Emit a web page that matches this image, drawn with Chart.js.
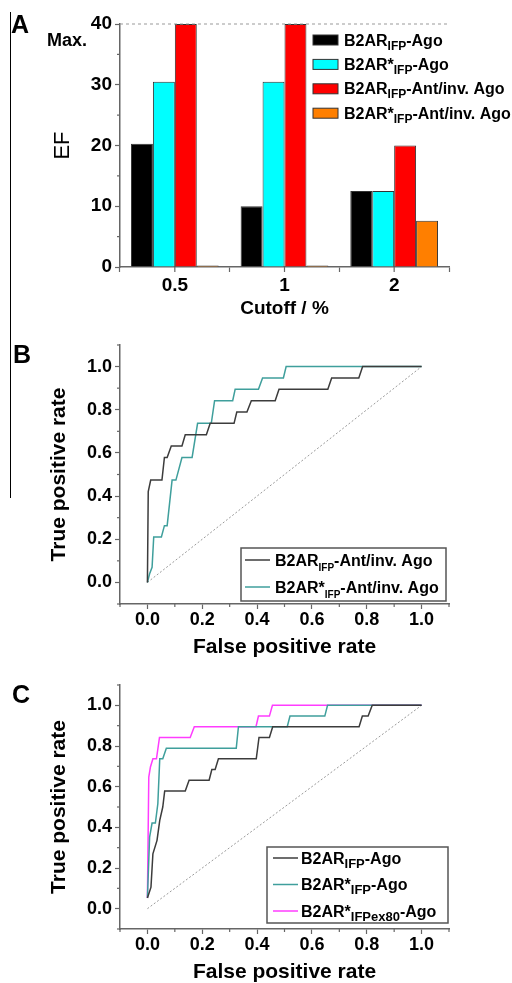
<!DOCTYPE html>
<html>
<head>
<meta charset="utf-8">
<script src="https://cdn.jsdelivr.net/npm/chart.js@4.4.0/dist/chart.umd.min.js"></script>
<style>
  body { margin: 0; background: #fff; width: 512px; height: 983px; position: relative; overflow: hidden; }
  canvas { position: absolute; left: 0; }
  #rule { position: absolute; left: 10px; top: 12px; width: 1px; height: 486px; background: #000; }
</style>
</head>
<body>
<div id="rule"></div>
<canvas id="chartA" width="512" height="320" style="top:0px;width:512px;height:320px"></canvas>
<canvas id="chartB" width="512" height="340" style="top:320px;width:512px;height:340px"></canvas>
<canvas id="chartC" width="512" height="323" style="top:660px;width:512px;height:323px"></canvas>
<script>
//	Panel A - enrichment factor per cutoff
var cutoffLabels = ['0.5', '1', '2'];
var efAgo = [20.3, 10.0, 12.5];
var efAgoStar = [30.5, 30.5, 12.5];
var efAnt = [40.0, 40.0, 20.0];
var efAntStar = [0.25, 0.25, 7.6];
var efMax = 40;

//	Panel B - ROC, antagonists / inverse agonists
var rocAntFpr = [0, 0.003, 0.012, 0.053, 0.062, 0.072, 0.087, 0.126, 0.138, 0.215, 0.229, 0.316, 0.326, 0.363, 0.379, 0.466, 0.48, 0.658, 0.672, 0.771, 0.785, 1.0];
var rocAntTpr = [0, 0.421, 0.474, 0.474, 0.579, 0.579, 0.632, 0.632, 0.684, 0.684, 0.737, 0.737, 0.789, 0.789, 0.842, 0.842, 0.895, 0.895, 0.947, 0.947, 1.0, 1.0];
var rocAntStarFpr = [0, 0.008, 0.017, 0.023, 0.051, 0.062, 0.072, 0.09, 0.104, 0.126, 0.163, 0.183, 0.233, 0.245, 0.311, 0.32, 0.405, 0.42, 0.496, 0.506, 1.0];
var rocAntStarTpr = [0, 0.04, 0.07, 0.211, 0.211, 0.263, 0.263, 0.474, 0.474, 0.579, 0.579, 0.737, 0.737, 0.842, 0.842, 0.895, 0.895, 0.947, 0.947, 1.0, 1.0];

//	Panel C - ROC, agonists
var rocAgoFpr = [0, 0.013, 0.02, 0.035, 0.045, 0.056, 0.063, 0.138, 0.152, 0.225, 0.235, 0.247, 0.259, 0.397, 0.407, 0.445, 0.457, 0.772, 0.784, 0.805, 0.82, 1.0];
var rocAgoTpr = [0.053, 0.106, 0.27, 0.336, 0.434, 0.5, 0.579, 0.579, 0.632, 0.632, 0.684, 0.684, 0.737, 0.737, 0.842, 0.842, 0.895, 0.895, 0.947, 0.947, 1.0, 1.0];
var rocAgoStarFpr = [0, 0.008, 0.017, 0.029, 0.038, 0.045, 0.056, 0.069, 0.324, 0.332, 0.51, 0.52, 0.647, 0.657, 1.0];
var rocAgoStarTpr = [0.053, 0.352, 0.421, 0.421, 0.516, 0.737, 0.737, 0.789, 0.789, 0.895, 0.895, 0.947, 0.947, 1.0, 1.0];
var rocAgoEx80Fpr = [0, 0.005, 0.011, 0.02, 0.033, 0.044, 0.156, 0.171, 0.396, 0.405, 0.445, 0.456, 1.0];
var rocAgoEx80Tpr = [0.053, 0.647, 0.697, 0.737, 0.737, 0.842, 0.842, 0.895, 0.895, 0.947, 0.947, 1.0, 1.0];

var randomFpr = [0, 1];
var randomTpr = [0, 1];

var fontFamily = "'Liberation Sans', Arial, sans-serif";
var axisColor = '#666666';
var colors = {
	black: '#000000', cyan: '#00ffff', red: '#ff0000', orange: '#ff7f00',
	rocDark: '#3c3c3c', rocTeal: '#3f9f9c', rocPink: '#ff3cff', random: '#9a9a9a'
};

Chart.defaults.font.family = fontFamily;
Chart.defaults.color = '#000';

// zip two arrays into {x,y}
var toPoints = function (xs, ys) {
	return xs.map(function (x, i) { return { x: x, y: ys[i] }; });
};

// majors only get a visible tick from chart.js, minors are drawn shorter by the plugin
var majorTickColor = function (every) {
	return function (ctx) {
		var t = ctx.tick ? Math.round(ctx.tick.value / every * 1000) / 1000 : 1;
		return Math.abs(t - Math.round(t)) < 1e-6 ? axisColor : 'rgba(0,0,0,0)';
	};
};

var tenthLabel = function (v) {
	var t = Math.round(v * 10);
	return (t >= 0 && t <= 10 && t % 2 === 0) ? (t / 10).toFixed(1) : '';
};

var drawRich = function (ctx, x, y, parts, lg) {
	parts.forEach(function (p, i) {
		var isSub = i % 2 === 1;
		ctx.font = 'bold ' + (isSub ? lg.subSize : lg.size) + 'px ' + fontFamily;
		ctx.fillText(p, x, y + (isSub ? lg.subShift : 0));
		x += ctx.measureText(p).width;
	});
};

//	Extras: minor ticks, panel letters, max line, legends with subscripts
var figureExtras = {
	id: 'figureExtras',
	afterDraw: function (chart, args, opts) {
		var ctx = chart.ctx;
		var area = chart.chartArea;
		ctx.save();
		ctx.strokeStyle = axisColor;
		ctx.lineWidth = 1.2;
		(opts.minorTicks || []).forEach(function (m) {
			var sc = chart.scales[m.axis];
			m.values.forEach(function (v) {
				var p = sc.getPixelForValue(v);
				ctx.beginPath();
				if (sc.isHorizontal()) { ctx.moveTo(p, sc.top); ctx.lineTo(p, sc.top + m.len); }
				else { ctx.moveTo(sc.right, p); ctx.lineTo(sc.right - m.len, p); }
				ctx.stroke();
			});
		});

		if (opts.maxLine) {
			var yp = chart.scales.y.getPixelForValue(opts.maxLine.value);
			ctx.strokeStyle = '#999';
			ctx.lineWidth = 1;
			ctx.setLineDash([3, 3]);
			ctx.beginPath();
			ctx.moveTo(area.left, yp);
			ctx.lineTo(area.right, yp);
			ctx.stroke();
			ctx.setLineDash([]);
			ctx.fillStyle = '#000';
			ctx.font = 'bold 18px ' + fontFamily;
			ctx.textBaseline = 'alphabetic';
			ctx.fillText(opts.maxLine.text, 47, yp + 22);
		}

		if (opts.panel) {
			ctx.fillStyle = '#000';
			ctx.font = 'bold 25px ' + fontFamily;
			ctx.textBaseline = 'alphabetic';
			ctx.fillText(opts.panel.text, opts.panel.x, opts.panel.y);
		}

		var lg = opts.legend;
		if (lg) {
			if (lg.frame) {
				ctx.strokeStyle = '#555';
				ctx.lineWidth = 1.5;
				ctx.fillStyle = '#fff';
				ctx.fillRect(lg.frame.x, lg.frame.y, lg.frame.w, lg.frame.h);
				ctx.strokeRect(lg.frame.x, lg.frame.y, lg.frame.w, lg.frame.h);
			}
			var row = 0;
			chart.data.datasets.forEach(function (ds) {
				if (!ds.legendParts) return;
				var cy = lg.y + row * lg.gap;
				if (lg.swatch === 'box') {
					ctx.fillStyle = ds.backgroundColor;
					ctx.fillRect(lg.x, cy - 5, 25, 10);
					ctx.strokeStyle = '#333';
					ctx.lineWidth = 1;
					ctx.strokeRect(lg.x, cy - 5, 25, 10);
				} else {
					ctx.strokeStyle = ds.borderColor;
					ctx.lineWidth = 1.5;
					ctx.beginPath();
					ctx.moveTo(lg.x, cy);
					ctx.lineTo(lg.x + 25, cy);
					ctx.stroke();
				}
				ctx.fillStyle = '#000';
				ctx.textBaseline = 'alphabetic';
				drawRich(ctx, lg.textX, cy + 5.5, ds.legendParts, lg);
				row++;
			});
		}
		ctx.restore();
	}
};

var rocScales = function (xHeight, titleBottom) {
	var tickFont = { size: 18, weight: 'bold' };
	var titleFont = { size: 21, weight: 'bold', lineHeight: 1 };
	return {
		x: {
			type: 'linear', min: -0.1, max: 1.1,
			ticks: { stepSize: 0.1, autoSkip: false, maxRotation: 0, padding: 0, font: tickFont, callback: tenthLabel },
			grid: { drawOnChartArea: false, tickLength: 5, tickWidth: 1.2, tickColor: majorTickColor(0.2) },
			border: { color: axisColor, width: 1.5 },
			title: { display: true, text: 'False positive rate', font: titleFont, padding: { top: 0, bottom: titleBottom } },
			afterFit: function (s) { s.height = xHeight; }
		},
		y: {
			type: 'linear', min: -0.1, max: 1.1,
			ticks: { stepSize: 0.1, autoSkip: false, padding: 3, font: tickFont, callback: tenthLabel },
			grid: { drawOnChartArea: false, tickLength: 5, tickWidth: 1.2, tickColor: majorTickColor(0.2) },
			border: { color: axisColor, width: 1.5 },
			title: { display: true, text: 'True positive rate', font: titleFont, padding: { top: 49, bottom: 0 } },
			afterFit: function (s) { s.width = 120; }
		}
	};
};

var rocMinor = [
	{ axis: 'x', len: 3, values: [-0.1, 0.1, 0.3, 0.5, 0.7, 0.9, 1.1] },
	{ axis: 'y', len: 3, values: [-0.1, 0.1, 0.3, 0.5, 0.7, 0.9, 1.1] }
];

var lineSet = function (label, parts, xs, ys, color) {
	return {
		label: label, legendParts: parts, data: toPoints(xs, ys),
		borderColor: color, backgroundColor: color, borderWidth: 1.5,
		showLine: true, pointRadius: 0, tension: 0
	};
};

var randomSet = {
	label: 'random', data: toPoints(randomFpr, randomTpr),
	borderColor: colors.random, borderWidth: 1, borderDash: [2, 2],
	showLine: true, pointRadius: 0
};

//	Panel A
new Chart(document.getElementById('chartA'), {
	type: 'bar',
	data: {
		labels: cutoffLabels,
		datasets: [
			{ label: 'B2AR IFP-Ago', legendParts: ['B2AR', 'IFP', '-Ago'], data: efAgo, backgroundColor: colors.black },
			{ label: 'B2AR* IFP-Ago', legendParts: ['B2AR*', 'IFP', '-Ago'], data: efAgoStar, backgroundColor: colors.cyan },
			{ label: 'B2AR IFP-Ant/inv. Ago', legendParts: ['B2AR', 'IFP', '-Ant/inv. Ago'], data: efAnt, backgroundColor: colors.red },
			{ label: 'B2AR* IFP-Ant/inv. Ago', legendParts: ['B2AR*', 'IFP', '-Ant/inv. Ago'], data: efAntStar, backgroundColor: colors.orange }
		]
	},
	options: {
		responsive: false,
		animation: false,
		layout: { padding: { top: 24, right: 63, left: 0, bottom: 0 } },
		datasets: { bar: { categoryPercentage: 0.8, barPercentage: 1.0, borderWidth: 1, borderColor: '#333' } },
		scales: {
			x: {
				ticks: { padding: 2, font: { size: 19, weight: 'bold' } },
				grid: { drawOnChartArea: false, offset: true, tickLength: 5, tickWidth: 1.2, tickColor: axisColor },
				border: { color: axisColor, width: 1.5 },
				title: { display: true, text: 'Cutoff / %', font: { size: 19, weight: 'bold', lineHeight: 1 }, padding: { top: 0, bottom: 1.5 } },
				afterFit: function (s) { s.height = 53; }
			},
			y: {
				min: 0, max: efMax,
				ticks: { stepSize: 5, padding: 3, font: { size: 19, weight: 'bold' },
					callback: function (v) { return v % 10 === 0 ? String(v) : ''; } },
				grid: { drawOnChartArea: false, tickLength: 5, tickWidth: 1.2, tickColor: majorTickColor(10) },
				border: { color: axisColor, width: 1.5 },
				title: { display: true, text: 'EF', font: { size: 22, weight: 'normal', lineHeight: 1 }, padding: { top: 52, bottom: 0 } },
				afterFit: function (s) { s.width = 120; }
			}
		},
		plugins: {
			legend: { display: false },
			tooltip: { enabled: false },
			figureExtras: {
				panel: { text: 'A', x: 11, y: 33 },
				maxLine: { value: efMax, text: 'Max.' },
				minorTicks: [
					{ axis: 'y', len: 3, values: [5, 15, 25, 35] },
					{ axis: 'x', len: 5, values: [0, 1, 2] }
				],
				legend: { swatch: 'box', x: 313, y: 40, gap: 24.4, textX: 344, size: 16, subSize: 12, subShift: 4 }
			}
		}
	},
	plugins: [figureExtras]
});

//	Panel B
new Chart(document.getElementById('chartB'), {
	type: 'scatter',
	data: {
		datasets: [
			lineSet('B2AR IFP-Ant/inv. Ago', ['B2AR', 'IFP', '-Ant/inv. Ago'], rocAntFpr, rocAntTpr, colors.rocDark),
			lineSet('B2AR* IFP-Ant/inv. Ago', ['B2AR*', 'IFP', '-Ant/inv. Ago'], rocAntStarFpr, rocAntStarTpr, colors.rocTeal),
			randomSet
		]
	},
	options: {
		responsive: false,
		animation: false,
		layout: { padding: { top: 25, right: 63, left: 0, bottom: 0 } },
		scales: rocScales(56, 2.5),
		plugins: {
			legend: { display: false },
			tooltip: { enabled: false },
			figureExtras: {
				panel: { text: 'B', x: 13, y: 43 },
				minorTicks: rocMinor,
				legend: { swatch: 'line', frame: { x: 241, y: 228, w: 205, h: 53 },
					x: 245, y: 240, gap: 27, textX: 275, size: 16, subSize: 10, subShift: 5 }
			}
		}
	},
	plugins: [figureExtras]
});

//	Panel C
new Chart(document.getElementById('chartC'), {
	type: 'scatter',
	data: {
		datasets: [
			lineSet('B2AR IFP-Ago', ['B2AR', 'IFP', '-Ago'], rocAgoFpr, rocAgoTpr, colors.rocDark),
			lineSet('B2AR* IFP-Ago', ['B2AR*', 'IFP', '-Ago'], rocAgoStarFpr, rocAgoStarTpr, colors.rocTeal),
			lineSet('B2AR* IFPex80-Ago', ['B2AR*', 'IFPex80', '-Ago'], rocAgoEx80Fpr, rocAgoEx80Tpr, colors.rocPink),
			randomSet
		]
	},
	options: {
		responsive: false,
		animation: false,
		layout: { padding: { top: 25, right: 63, left: 0, bottom: 0 } },
		scales: rocScales(54, 0),
		plugins: {
			legend: { display: false },
			tooltip: { enabled: false },
			figureExtras: {
				panel: { text: 'C', x: 12, y: 43 },
				minorTicks: rocMinor,
				legend: { swatch: 'line', frame: { x: 267, y: 187, w: 181, h: 76 },
					x: 273, y: 198, gap: 26.5, textX: 301, size: 16, subSize: 13, subShift: 4 }
			}
		}
	},
	plugins: [figureExtras]
});
</script>
</body>
</html>
